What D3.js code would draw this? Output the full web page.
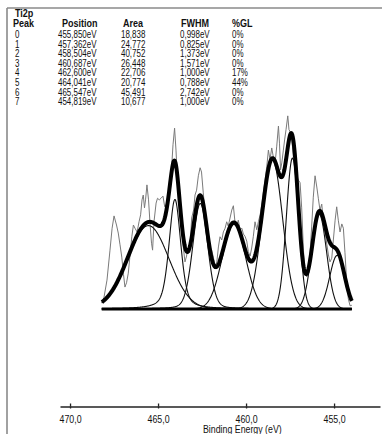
<!DOCTYPE html>
<html><head><meta charset="utf-8">
<script src="https://cdn.jsdelivr.net/npm/d3@7"></script>
<style>
html,body{margin:0;padding:0;background:#fff;}
svg{display:block;}
text{font-family:"Liberation Sans",Arial,sans-serif;fill:#111;}
</style></head>
<body>
<svg id="c" width="382" height="434"></svg>
<script>
// ---- fit table (Ti2p) ----
const peakIds   = [0,1,2,3,4,5,6,7];
const positions = [455.850,457.362,458.504,460.687,462.600,464.041,465.547,454.819];
const areas     = [18.838,24.772,40.752,26.448,22.706,20.774,45.491,10.677];
const fwhms     = [0.998,0.825,1.373,1.571,1.000,0.788,2.742,1.000];
const glPercent = [0,0,0,0,17,44,0,0];

const rawEnergy = [468.20,468.07,467.90,467.73,467.61,467.50,467.36,467.26,467.16,467.06,466.96,466.88,466.79,466.69,466.59,466.49,466.40,466.31,466.19,466.08,465.99,465.91,465.84,465.77,465.71,465.63,465.54,465.45,465.37,465.31,465.23,465.11,465.03,464.93,464.83,464.72,464.62,464.52,464.41,464.32,464.22,464.15,464.06,463.98,463.92,463.85,463.75,463.65,463.56,463.47,463.38,463.30,463.20,463.09,462.98,462.90,462.81,462.71,462.61,462.53,462.43,462.33,462.23,462.13,462.05,461.95,461.86,461.76,461.66,461.57,461.48,461.38,461.29,461.19,461.10,461.01,460.91,460.81,460.72,460.63,460.53,460.44,460.34,460.24,460.15,460.06,459.96,459.87,459.77,459.68,459.59,459.49,459.39,459.30,459.20,459.11,459.02,458.92,458.82,458.73,458.64,458.54,458.45,458.35,458.26,458.16,458.10,458.04,457.97,457.88,457.81,457.73,457.63,457.56,457.44,457.37,457.31,457.22,457.12,457.03,456.93,456.84,456.74,456.65,456.55,456.46,456.36,456.27,456.18,456.08,455.98,455.89,455.80,455.70,455.61,455.51,455.41,455.32,455.23,455.13,455.04,454.94,454.85,454.76,454.66,454.56,454.47,454.38,454.28,454.19,454.09,453.99];
const rawCounts = [1.1,2.2,5.4,11.0,15.1,17.4,15.7,14.2,12.0,9.7,6.4,4.1,4.9,6.7,10.1,13.5,15.7,15.1,14.4,16.3,17.6,20.4,21.3,18.9,20.4,23.2,20.4,15.7,12.3,11.0,16.3,19.8,20.7,20.4,20.7,21.1,19.1,19.6,21.7,23.2,26.9,30.7,33.8,29.7,25.6,21.9,18.5,15.1,11.4,8.8,9.9,11.4,10.5,17.0,18.5,21.3,22.2,24.9,26.4,25.6,21.7,18.1,15.1,12.9,11.6,11.0,9.7,8.0,8.8,11.6,13.5,12.9,14.4,15.1,16.3,15.5,17.0,18.5,19.3,16.3,15.5,16.6,14.8,15.1,14.0,13.6,12.7,10.7,9.9,11.4,13.5,16.3,14.8,16.3,17.6,19.4,21.7,24.1,26.7,29.7,27.9,30.1,28.4,27.3,30.3,34.2,31.0,26.0,27.3,29.7,31.6,33.5,36.1,33.5,32.9,30.7,28.4,29.7,24.9,24.1,23.6,18.9,11.0,6.9,6.0,7.9,10.7,15.5,20.9,24.9,22.8,20.6,18.5,19.6,16.6,14.4,12.1,10.1,8.8,9.5,12.9,16.6,19.1,16.6,14.4,15.9,15.1,10.5,5.0,1.9,0.6,0.7];

// ---- axis ----
const tickValues = [470,465,460,455];
const xTitle = "Binding Energy (eV)";

const svg = d3.select("#c");

// narrow text helper
function txt(g, x, y, s, opt={}){
  return g.append("text")
    .attr("transform",`translate(${x},${y}) scale(${opt.sx||0.76},1)`)
    .attr("font-size",opt.size||10.5)
    .attr("font-weight",opt.bold?"bold":null)
    .attr("text-anchor",opt.anchor||"start")
    .text(s);
}

// frame
svg.append("line").attr("x1",7).attr("x2",7).attr("y1",8).attr("y2",434).attr("stroke","#8a8a8a").attr("stroke-width",1.6);
svg.append("line").attr("x1",7).attr("x2",382).attr("y1",8).attr("y2",8).attr("stroke","#8a8a8a").attr("stroke-width",1.6);

const x = d3.scaleLinear().domain([470.57,452.39]).range([60,380]);
const y = d3.scaleLinear().domain([0,40]).range([309,95]);

// components
const eMin = d3.min(rawEnergy), eMax = d3.max(rawEnergy);
const grid = d3.range(eMin, eMax + 0.001, 0.02);
function comp(i, e){
  const m = glPercent[i]/100, F = fwhms[i], d = e - positions[i];
  const H = areas[i] / (F*((1-m)*1.0645 + m*1.5708));
  const u = 4*d*d/(F*F);
  return H*((1-m)*Math.exp(-Math.LN2*u) + m/(1+u));
}
const line = d3.line().x(d=>x(d[0])).y(d=>y(d[1]));

// raw data (gray)
svg.append("path").datum(rawEnergy.map((e,i)=>[e,rawCounts[i]]))
  .attr("d",line).attr("fill","none").attr("stroke","#7a7a7a").attr("stroke-width",1);

// component curves
peakIds.forEach(i=>{
  svg.append("path").datum(grid.map(e=>[e,comp(i,e)]))
    .attr("d",line).attr("fill","none").attr("stroke","#111").attr("stroke-width",1.1);
});

// background line
svg.append("path").datum([[eMax,0],[eMin,0]]).attr("d",line)
  .attr("fill","none").attr("stroke","#000").attr("stroke-width",3);

// envelope
svg.append("path").datum(grid.map(e=>[e,d3.sum(peakIds,i=>comp(i,e))]))
  .attr("d",line).attr("fill","none").attr("stroke","#000").attr("stroke-width",4).attr("stroke-linejoin","round");

// x axis
const fmt = v => d3.format(".1f")(v).replace(".",",");
const ax = svg.append("g").attr("transform","translate(0,406.5)")
  .call(d3.axisBottom(x).tickValues(tickValues).tickFormat(fmt).tickSizeInner(-3).tickSizeOuter(0).tickPadding(8));
ax.select(".domain").attr("stroke","#222").attr("stroke-width",1.3);
ax.selectAll(".tick line").attr("stroke","#222").attr("stroke-width",1.3);
ax.selectAll(".tick").append("line").attr("y1",0).attr("y2",2).attr("stroke","#222").attr("stroke-width",1.3);
ax.selectAll(".tick text").each(function(d){
  d3.select(this).attr("font-family",null).attr("font-size",11).attr("fill","#111")
   .attr("y",null).attr("dy",null)
   .attr("transform","translate(0,16.5) scale(0.8,1)");
});
txt(svg, 203, 433, xTitle, {size:11, sx:0.8});

// table
const hdr = svg.append("g");
const hb = {bold:true, sx:0.86};
txt(hdr, 15, 17, "Ti2p", hb);
txt(hdr, 13, 27, "Peak", hb);
txt(hdr, 62, 27, "Position", hb);
txt(hdr, 123, 27, "Area", hb);
txt(hdr, 181, 27, "FWHM", hb);
txt(hdr, 232, 27, "%GL", hb);
const f3 = v => d3.format(".3f")(v).replace(".",",");
const rows = svg.append("g");
peakIds.forEach((p,i)=>{
  const yy = 38 + i*9.6;
  txt(rows, 15, yy, p);
  txt(rows, 58, yy, f3(positions[i])+"eV");
  txt(rows, 121, yy, f3(areas[i]));
  txt(rows, 180, yy, f3(fwhms[i])+"eV");
  txt(rows, 232, yy, glPercent[i]+"%");
});
</script>
</body></html>
